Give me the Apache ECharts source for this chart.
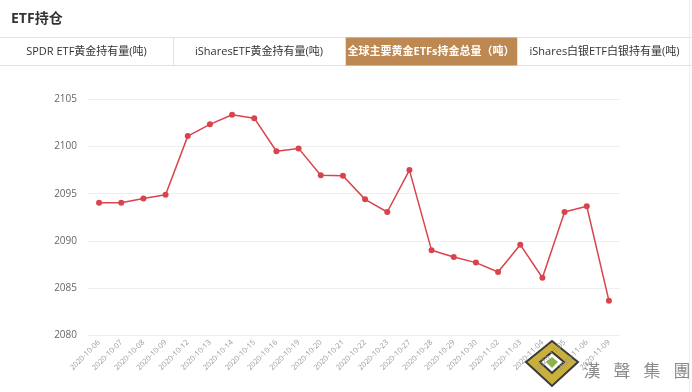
<!DOCTYPE html>
<html><head><meta charset="utf-8">
<script src="https://cdn.jsdelivr.net/npm/echarts@6/dist/echarts.min.js"></script>
<style>html,body{margin:0;padding:0;background:#fff;}#c{width:692px;height:392px;}</style>
</head><body><div id="c"></div>
<script>
const title = 'ETF持仓';
const tabs = ['SPDR ETF黄金持有量(吨)', 'iSharesETF黄金持有量(吨)', '全球主要黄金ETFs持金总量（吨）', 'iShares白银ETF白银持有量(吨)'];
const activeTab = 2;
const categories = ['2020-10-06','2020-10-07','2020-10-08','2020-10-09','2020-10-12','2020-10-13','2020-10-14','2020-10-15','2020-10-16','2020-10-19','2020-10-20','2020-10-21','2020-10-22','2020-10-23','2020-10-27','2020-10-28','2020-10-29','2020-10-30','2020-11-02','2020-11-03','2020-11-04','2020-11-05','2020-11-06','2020-11-09'];
const values = [2094.05,2094.05,2094.5,2094.9,2101.1,2102.35,2103.37,2103.0,2099.5,2099.8,2096.95,2096.9,2094.4,2093.06,2097.5,2089.0,2088.3,2087.7,2086.7,2089.6,2086.1,2093.06,2093.67,2083.67];
const watermark = ['漢', '聲', '集', '團'];

const font = '"Open Sans","Noto Sans CJK SC",sans-serif';
const tabW = [173, 172, 172, 175];
const tabGraphics = [];
let x0 = 0;
tabs.forEach((t, i) => {
  const w = tabW[i];
  if (i === activeTab) {
    tabGraphics.push({type:'rect', shape:{x:x0, y:37.5, width:w, height:28}, style:{fill:'#be8852'}});
  }
  tabGraphics.push({type:'text', x:x0 + w/2, y:51.5, style:{text:t, fill: i===activeTab?'#fff':'#333', font:(i===activeTab?'bold 11px ':'11px ')+font, textAlign:'center', textVerticalAlign:'middle'}});
  if (i > 0) tabGraphics.push({type:'line', shape:{x1:x0+0.5, y1:37.5, x2:x0+0.5, y2:65.5}, style:{stroke:'#e6e0d8', lineWidth:1}});
  x0 += w;
});
const wmGraphics = watermark.map((ch, i) => ({type:'text', x:592 + i*30, y:371,
  style:{text:ch, fill:'#8a8a8a', font:'17px "Noto Sans CJK TC",serif', textAlign:'center', textVerticalAlign:'middle'}}));

const chart = echarts.init(document.getElementById('c'));
chart.setOption({
  animation:false,
  graphic:[
    {type:'text', x:11, y:19, style:{text:title, fill:'#333', font:'bold 14px '+font, textVerticalAlign:'middle'}},
    {type:'line', shape:{x1:0, y1:37.5, x2:692, y2:37.5}, style:{stroke:'#e6e0d8', lineWidth:1}},
    {type:'line', shape:{x1:0, y1:65.5, x2:692, y2:65.5}, style:{stroke:'#e6e0d8', lineWidth:1}},
    {type:'line', shape:{x1:689.5, y1:0, x2:689.5, y2:392}, style:{stroke:'#eee', lineWidth:1}},
    ...tabGraphics,
    {type:'polygon', shape:{points:[[552,341],[578,362],[552,386],[526,362]]}, style:{fill:'#c9b03a', stroke:'#3a3a3a', lineWidth:2}},
    {type:'polygon', shape:{points:[[552,352],[564,362],[552,373],[540,362]]}, style:{fill:'#fff', stroke:'#333', lineWidth:2}},
    {type:'polygon', shape:{points:[[552,357],[558,362],[552,368],[546,362]]}, style:{fill:'#8bb34a'}},
    ...wmGraphics
  ],
  grid:{left:88, right:72, top:99.3, bottom:56.7},
  xAxis:{type:'category', data:categories, boundaryGap:true,
    axisLine:{show:false}, axisTick:{show:false},
    axisLabel:{rotate:45, fontSize:7.5, color:'#999', interval:0, margin:6, fontFamily:font}},
  yAxis:{type:'value', min:2080, max:2105, interval:5,
    axisLine:{show:false}, axisTick:{show:false},
    splitLine:{lineStyle:{color:'#eee'}},
    axisLabel:{fontSize:10, color:'#666', margin:11, fontFamily:font, formatter:v => String(v)}},
  series:[{type:'line', data:values, symbol:'circle', symbolSize:6,
    itemStyle:{color:'#d9444c'}, lineStyle:{color:'#d9444c', width:1.5}}]
});
</script></body></html>
